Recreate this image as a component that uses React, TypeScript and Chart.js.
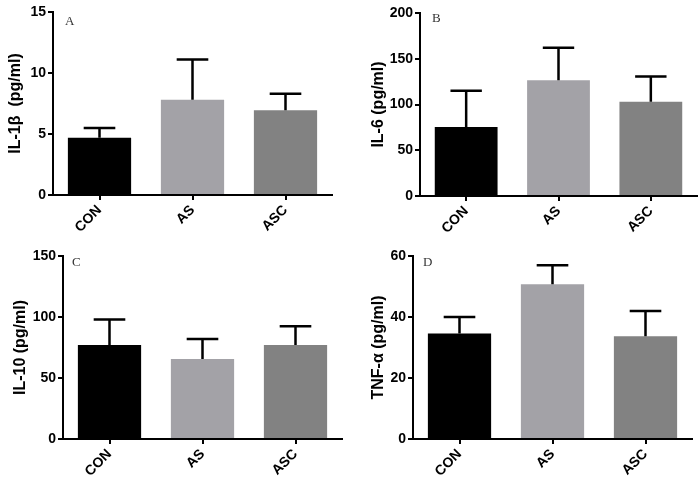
import React, { useEffect, useRef } from "react";
import { Chart, registerables } from "chart.js";

Chart.register(...registerables);

// ---------- data ----------
const categories = ["CON", "AS", "ASC"];

const il1bMean = [4.7, 7.8, 6.95];
const il1bSD = [0.8, 3.3, 1.35];

const il6Mean = [75.5, 126.5, 103];
const il6SD = [39.5, 35.5, 27.5];

const il10Mean = [77, 65.5, 77];
const il10SD = [21, 16.5, 15.5];

const tnfMean = [34.6, 50.7, 33.7];
const tnfSD = [5.4, 6.3, 8.3];

const panelLetters = ["A", "B", "C", "D"];
const yTitles = ["IL-1β  (pg/ml)", "IL-6 (pg/ml)", "IL-10 (pg/ml)", "TNF-α (pg/ml)"];
const yMaxes = [15, 200, 150, 60];
const ySteps = [5, 50, 50, 20];

// ---------- styles ----------
const barColors = ["#000000", "#a3a2a7", "#828282"];
const FONT = "'Liberation Sans', Arial, sans-serif";

const layouts = [
  { left: 0, top: 0, w: 350, h: 240, yW: 53, xH: 45, padTop: 12, padRight: 18, titlePad: 6, letterDx: 12, letterDy: 3 },
  { left: 350, top: 0, w: 349, h: 240, yW: 70, xH: 44, padTop: 13, padRight: 2, titlePad: 19, letterDx: 12, letterDy: -1 },
  { left: 0, top: 240, w: 350, h: 243, yW: 63, xH: 44, padTop: 16, padRight: 8, titlePad: 11, letterDx: 9, letterDy: 0 },
  { left: 350, top: 240, w: 349, h: 243, yW: 63, xH: 44, padTop: 16, padRight: 7, titlePad: 19, letterDx: 10, letterDy: 0 },
];

const errorBarPlugin = {
  id: "errorBars",
  afterDatasetsDraw(chart: any) {
    const ds: any = chart.data.datasets[0];
    const meta = chart.getDatasetMeta(0);
    const yScale = chart.scales.y;
    const ctx = chart.ctx;
    ctx.save();
    ctx.strokeStyle = "#000";
    ctx.lineWidth = 2.5;
    meta.data.forEach((bar: any, i: number) => {
      const mean = ds.data[i];
      const sd = ds.sd[i];
      const x = bar.x;
      const y0 = yScale.getPixelForValue(mean);
      const y1 = yScale.getPixelForValue(mean + sd);
      const half = bar.width / 4;
      ctx.beginPath();
      ctx.moveTo(x, y0);
      ctx.lineTo(x, y1);
      ctx.moveTo(x - half, y1);
      ctx.lineTo(x + half, y1);
      ctx.stroke();
    });
    ctx.restore();
  },
};

const letterPlugin = {
  id: "panelLetter",
  afterDraw(chart: any) {
    const o = chart.options.plugins.panelLetter;
    if (!o) return;
    const ctx = chart.ctx;
    ctx.save();
    ctx.fillStyle = "#333";
    ctx.font = "13px 'Liberation Serif', 'Times New Roman', serif";
    ctx.textBaseline = "top";
    ctx.textAlign = "left";
    ctx.fillText(o.text, chart.chartArea.left + o.dx, chart.chartArea.top + o.dy);
    ctx.restore();
  },
};

function Panel({ idx, mean, sd }: { idx: number; mean: number[]; sd: number[] }) {
  const ref = useRef<HTMLCanvasElement>(null);
  const L = layouts[idx];
  useEffect(() => {
    if (!ref.current) return;
    const chart = new Chart(ref.current, {
      type: "bar",
      data: {
        labels: categories,
        datasets: [
          {
            data: mean,
            sd: sd,
            backgroundColor: barColors,
            borderWidth: 0,
            barPercentage: 0.68,
            categoryPercentage: 1,
          } as any,
        ],
      },
      options: {
        responsive: false,
        animation: false,
        layout: { padding: { top: L.padTop, right: L.padRight, left: 0, bottom: 0 } },
        plugins: {
          legend: { display: false },
          tooltip: { enabled: false },
          panelLetter: { text: panelLetters[idx], dx: L.letterDx, dy: L.letterDy },
        } as any,
        scales: {
          x: {
            offset: true,
            grid: { display: true, offset: false, drawOnChartArea: false, drawTicks: true, tickLength: 5, color: "#000", lineWidth: 2 },
            border: { display: true, color: "#000", width: 2 },
            ticks: {
              color: "#000",
              font: { family: FONT, size: 14, weight: "bold" },
              maxRotation: 45,
              minRotation: 45,
              padding: 2,
            },
            afterFit(scale: any) {
              scale.height = L.xH;
              scale.paddingLeft = 0;
              scale.paddingRight = 0;
            },
          },
          y: {
            min: 0,
            max: yMaxes[idx],
            grid: { display: true, drawOnChartArea: false, drawTicks: true, tickLength: 5, color: "#000", lineWidth: 2 },
            border: { display: true, color: "#000", width: 2 },
            ticks: {
              stepSize: ySteps[idx],
              color: "#000",
              font: { family: FONT, size: 14, weight: "bold" },
              padding: 2,
            },
            title: {
              display: true,
              text: yTitles[idx],
              color: "#000",
              font: { family: FONT, size: 16, weight: "bold" },
              padding: { top: L.titlePad, bottom: 0 },
            },
            afterFit(scale: any) {
              scale.width = L.yW;
              scale.paddingTop = 0;
              scale.paddingBottom = 0;
            },
          },
        },
      },
      plugins: [errorBarPlugin, letterPlugin],
    } as any);
    return () => chart.destroy();
  }, []);
  return (
    <div style={{ position: "absolute", left: L.left, top: L.top, width: L.w, height: L.h }}>
      <canvas ref={ref} width={L.w} height={L.h} style={{ width: L.w, height: L.h, display: "block" }} />
    </div>
  );
}

export default function App() {
  return (
    <div style={{ position: "absolute", left: 0, top: 0, width: 699, height: 483, background: "#fff", overflow: "hidden" }}>
      <Panel idx={0} mean={il1bMean} sd={il1bSD} />
      <Panel idx={1} mean={il6Mean} sd={il6SD} />
      <Panel idx={2} mean={il10Mean} sd={il10SD} />
      <Panel idx={3} mean={tnfMean} sd={tnfSD} />
    </div>
  );
}
